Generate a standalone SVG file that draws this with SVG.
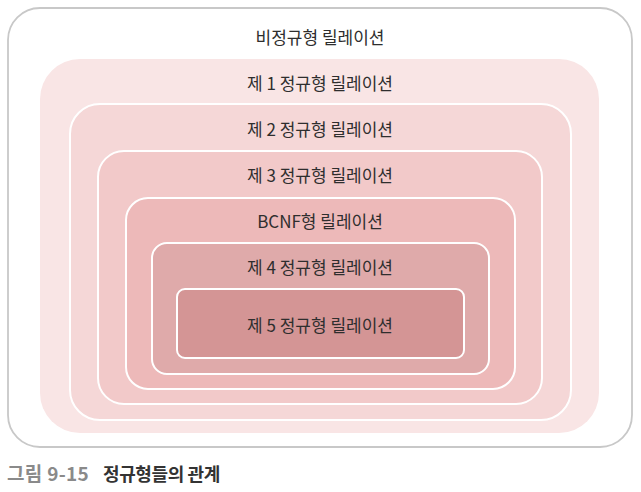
<svg xmlns="http://www.w3.org/2000/svg" width="641" height="492" viewBox="0 0 641 492">
<style>
.lbl{font-family:"Noto Sans CJK KR","Noto Sans",sans-serif;font-size:17px;fill:#2e2e2e;text-anchor:middle}
.inner{stroke:#ffffff;stroke-width:2}
.cap{font-family:"Noto Sans CJK KR","Noto Sans",sans-serif;font-weight:bold}
</style>
<rect width="641" height="492" fill="#ffffff"/>
<g id="n0">
<rect x="8" y="8" width="624" height="439" rx="32" fill="#ffffff" stroke="#c8c8c8" stroke-width="1.8"/>
<text class="lbl" x="320" y="44">비정규형 릴레이션</text>
</g>
<g id="n1">
<rect x="40" y="59" width="559" height="374" rx="40" fill="#f9e5e5"/>
<text class="lbl" x="320" y="90">제 1 정규형 릴레이션</text>
</g>
<g id="n2">
<rect class="inner" x="70" y="104" width="501" height="316" rx="30" fill="#f5d7d7"/>
<text class="lbl" x="320" y="136">제 2 정규형 릴레이션</text>
</g>
<g id="n3">
<rect class="inner" x="98" y="151" width="444" height="253" rx="26" fill="#f2c9c9"/>
<text class="lbl" x="320" y="182">제 3 정규형 릴레이션</text>
</g>
<g id="n4">
<rect class="inner" x="126" y="198" width="389" height="191" rx="22" fill="#edb9b9"/>
<text class="lbl" x="320" y="228">BCNF형 릴레이션</text>
</g>
<g id="n5">
<rect class="inner" x="152" y="243" width="337" height="131" rx="15" fill="#dfaaaa"/>
<text class="lbl" x="320" y="274">제 4 정규형 릴레이션</text>
</g>
<g id="n6">
<rect class="inner" x="177" y="289" width="287" height="69" rx="8" fill="#d49595"/>
<text class="lbl" x="320" y="332">제 5 정규형 릴레이션</text>
</g>
<g id="connectors"></g>
<text class="cap" x="7" y="481" font-size="19" fill="#8a8a8a" letter-spacing="0.3">그림 9-15</text>
<text class="cap" x="103" y="481" font-size="18" fill="#333333" letter-spacing="-0.4">정규형들의 관계</text>
</svg>
